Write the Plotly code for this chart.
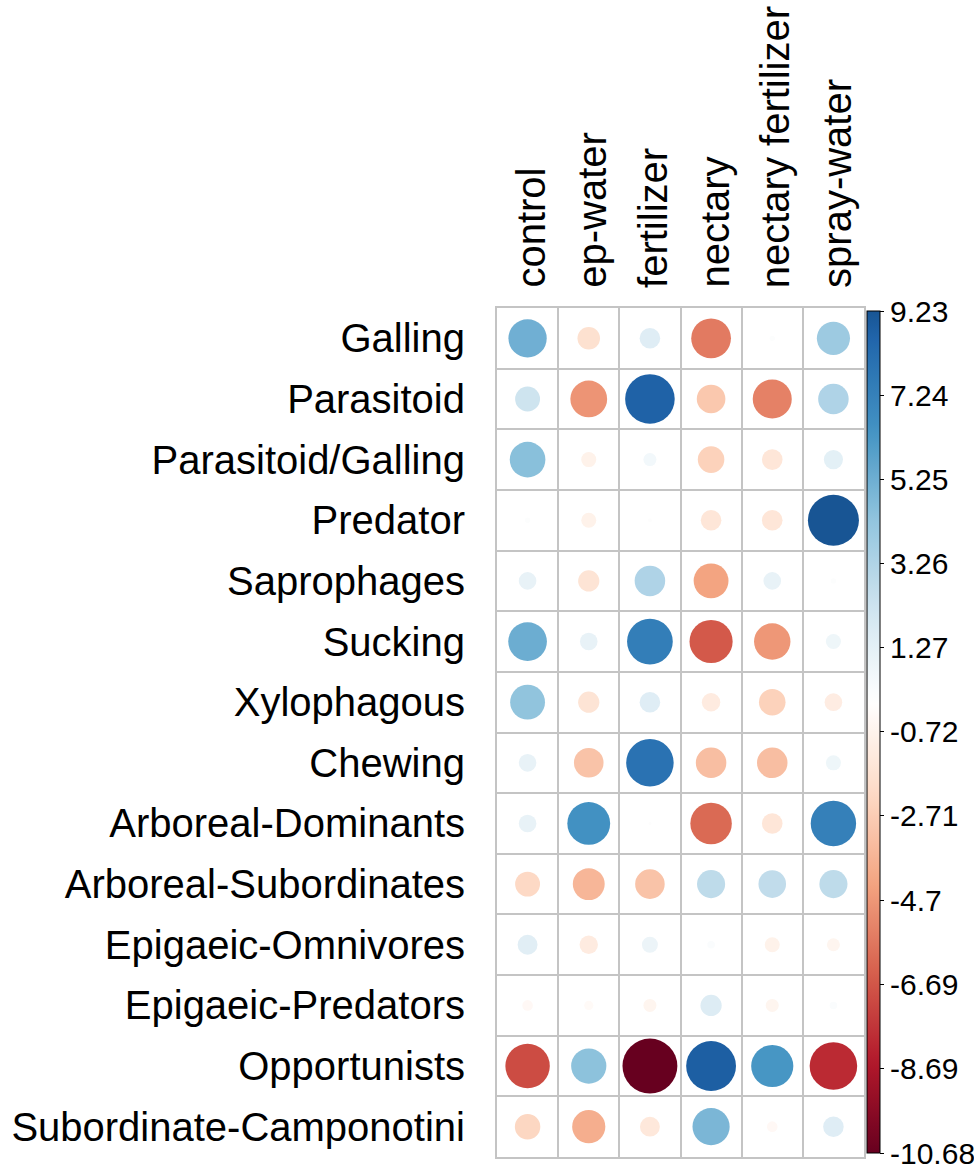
import numpy as np
import plotly.graph_objects as go

# Functional groups (rows) and treatments (columns)
groups = [
    "Galling", "Parasitoid", "Parasitoid/Galling", "Predator", "Saprophages",
    "Sucking", "Xylophagous", "Chewing", "Arboreal-Dominants",
    "Arboreal-Subordinates", "Epigaeic-Omnivores", "Epigaeic-Predators",
    "Opportunists", "Subordinate-Camponotini",
]
treatments = ["control", "ep-water", "fertilizer", "nectary", "nectary fertilizer", "spray-water"]

# Values per treatment, in the row order of `groups`
control = [5.2, 2.2, 4.5, 0.1, 1.1, 5.3, 4.3, 1.1, 1.1, -2.2, 1.4, -0.4, -7.0, -2.3]
ep_water = [-1.8, -4.8, -0.8, -0.8, -1.6, 1.1, -1.6, -3.1, 6.5, -3.6, -1.2, -0.3, 4.4, -3.9]
fertilizer = [1.5, 8.7, 0.6, 0.05, 3.3, 7.4, 1.5, 8.0, 0.03, -3.1, 0.9, -0.6, -10.68, -1.4]
nectary = [-5.6, -2.9, -2.5, -1.5, -4.3, -6.6, -1.2, -3.3, -6.1, 2.8, 0.2, 1.6, 8.8, 4.9]
nectary_fertilizer = [0.1, -5.4, -1.5, -1.5, 1.1, -4.7, -2.5, -3.3, -1.5, 2.7, -0.8, -0.6, 6.3, -0.4]
spray_water = [3.9, 3.3, 1.3, 9.23, 0.1, 0.8, -1.1, 0.8, 7.3, 2.8, -0.6, 0.2, -8.0, 1.5]

colorbar_labels = ["9.23", "7.24", "5.25", "3.26", "1.27", "-0.72",
                   "-2.71", "-4.7", "-6.69", "-8.69", "-10.68"]

columns = [control, ep_water, fertilizer, nectary, nectary_fertilizer, spray_water]

# Long-form point table
xs, ys, vals = [], [], []
for ci, col in enumerate(columns):
    for ri, v in enumerate(col):
        xs.append(ci)
        ys.append(ri)
        vals.append(v)
vals = np.array(vals)

vmin, vmax = float(vals.min()), float(vals.max())
maxabs = float(np.abs(vals).max())

# Diverging red-blue palette, centred on zero over [-maxabs, maxabs]
palette = ["#67001F", "#B2182B", "#D6604D", "#F4A582", "#FDDBC7", "#FFFFFF",
           "#D1E5F0", "#92C5DE", "#4393C3", "#2166AC", "#053061"]
pal_rgb = np.array([[int(h[i:i + 2], 16) for i in (1, 3, 5)] for h in palette], dtype=float)
pal_pos = np.linspace(-1, 1, len(palette))


def palette_color(u):
    rgb = [np.interp(u, pal_pos, pal_rgb[:, k]) for k in range(3)]
    return "rgb(%d,%d,%d)" % tuple(int(round(c)) for c in rgb)


# Colour scale restricted to the data range so zero stays white
colorscale = []
for t in np.linspace(0, 1, 61):
    v = vmin + t * (vmax - vmin)
    colorscale.append([float(t), palette_color(v / maxabs)])

# Circle area proportional to |value|
cell_px = 61.0
sizes = 0.9 * cell_px * np.sqrt(np.abs(vals) / maxabs)

# Colour-bar ticks, kept a hair inside the bar so the end labels are drawn
eps = 1e-6
cb_tickvals = [min(max(float(s), vmin + eps), vmax - eps) for s in colorbar_labels]

grid_color = "#c4c4c4"
n_col, n_row = len(treatments), len(groups)

# Plot-area geometry (pixels)
m_top, m_bottom, m_left, m_right = 308, 14, 497, 110
plot_h = 1171 - m_top - m_bottom
bar_top, bar_bottom = 311, 1153

fig = go.Figure(
    go.Scatter(
        x=xs,
        y=ys,
        mode="markers",
        marker=dict(
            size=sizes,
            sizemode="diameter",
            color=vals,
            colorscale=colorscale,
            cmin=vmin,
            cmax=vmax,
            line=dict(width=0),
            opacity=1,
            colorbar=dict(
                thickness=13,
                lenmode="pixels",
                len=bar_bottom - bar_top,
                x=1.008,
                xanchor="left",
                xpad=0,
                y=1 - (bar_top - m_top) / plot_h,
                yanchor="top",
                ypad=0,
                outlinecolor="black",
                outlinewidth=1,
                tickmode="array",
                tickvals=cb_tickvals,
                ticktext=colorbar_labels,
                ticks="outside",
                ticklen=4,
                tickcolor="black",
                ticklabeloverflow="allow",
                tickfont=dict(size=30, color="black"),
            ),
        ),
        hoverinfo="skip",
        showlegend=False,
    )
)

# Treatment names above the columns
for ci, name in enumerate(treatments):
    fig.add_annotation(
        x=ci, xref="x", y=1, yref="paper",
        text=name, textangle=-90, showarrow=False,
        xanchor="center", yanchor="bottom",
        xshift=3, yshift=18,
        font=dict(size=40, color="black"),
    )

fig.update_layout(
    width=974,
    height=1171,
    margin=dict(l=m_left, r=m_right, t=m_top, b=m_bottom, autoexpand=False),
    paper_bgcolor="white",
    plot_bgcolor="white",
    font=dict(family="Liberation Sans, Arial, sans-serif", color="black"),
    xaxis=dict(
        range=[-0.5, n_col - 0.5],
        side="top",
        tickmode="array",
        tickvals=list(range(n_col)),
        showticklabels=False,
        ticks="",
        showgrid=False,
        zeroline=False,
        showline=True,
        mirror=True,
        linecolor=grid_color,
        linewidth=2,
        minor=dict(tickmode="array", tickvals=[i + 0.5 for i in range(n_col - 1)],
                   showgrid=True, gridcolor=grid_color, gridwidth=2, ticks=""),
        fixedrange=True,
    ),
    yaxis=dict(
        range=[n_row - 0.5, -0.5],
        tickmode="array",
        tickvals=list(range(n_row)),
        ticktext=groups,
        tickfont=dict(size=40),
        ticks="outside",
        ticklen=22,
        tickcolor="rgba(0,0,0,0)",
        showgrid=False,
        zeroline=False,
        showline=True,
        mirror=True,
        linecolor=grid_color,
        linewidth=2,
        minor=dict(tickmode="array", tickvals=[i + 0.5 for i in range(n_row - 1)],
                   showgrid=True, gridcolor=grid_color, gridwidth=2, ticks=""),
        fixedrange=True,
    ),
)

fig.write_html("out.html", config={"displayModeBar": False})
